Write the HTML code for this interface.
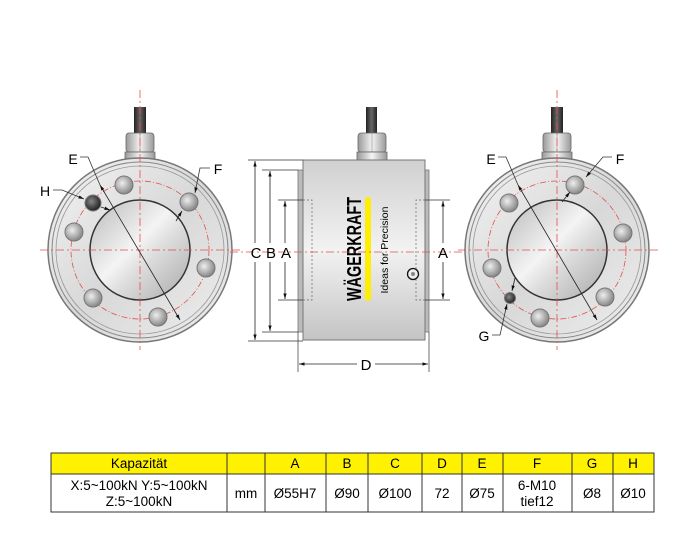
<!DOCTYPE html>
<html><head><meta charset="utf-8"><style>
html,body{margin:0;padding:0;background:#fff;}
svg{display:block}
text{font-family:"Liberation Sans",sans-serif;}
</style></head><body>
<svg width="700" height="541" viewBox="0 0 700 541" xmlns="http://www.w3.org/2000/svg">
<defs>
<linearGradient id="face" x1="0" y1="0" x2="1" y2="1">
<stop offset="0" stop-color="#f4f4f4"/><stop offset="0.5" stop-color="#d8d8d8"/><stop offset="1" stop-color="#eeeeee"/></linearGradient>
<linearGradient id="hole" x1="0" y1="0" x2="1" y2="1">
<stop offset="0" stop-color="#b8b8b8"/><stop offset="0.45" stop-color="#f4f4f4"/><stop offset="0.6" stop-color="#dcdcdc"/><stop offset="1" stop-color="#a8a8a8"/></linearGradient>
<linearGradient id="body" x1="0" y1="0" x2="0" y2="1">
<stop offset="0" stop-color="#d0d0d0"/><stop offset="0.5" stop-color="#f2f2f2"/><stop offset="1" stop-color="#c4c4c4"/></linearGradient>
<linearGradient id="cable" x1="0" y1="0" x2="1" y2="0">
<stop offset="0" stop-color="#222"/><stop offset="0.5" stop-color="#666"/><stop offset="1" stop-color="#222"/></linearGradient>
<linearGradient id="nut" x1="0" y1="0" x2="1" y2="0">
<stop offset="0" stop-color="#999"/><stop offset="0.5" stop-color="#f4f4f4"/><stop offset="1" stop-color="#999"/></linearGradient>
<radialGradient id="bolt" cx="0.4" cy="0.4" r="0.6"><stop offset="0" stop-color="#eee"/><stop offset="1" stop-color="#888"/></radialGradient>
<radialGradient id="dark" cx="0.4" cy="0.4" r="0.6"><stop offset="0" stop-color="#888"/><stop offset="1" stop-color="#222"/></radialGradient>
<marker id="ar" viewBox="0 0 10 10" refX="10" refY="5" markerWidth="7" markerHeight="7" orient="auto-start-reverse"><path d="M0,2 L10,5 L0,8 z" fill="#111"/></marker>
</defs>

<!-- LEFT VIEW -->
<g>
<rect x="134" y="107" width="12" height="27" fill="url(#cable)"/>
<rect x="126" y="133" width="28" height="19" rx="3" fill="url(#nut)" stroke="#666" stroke-width="0.8"/>
<line x1="140" y1="133" x2="140" y2="152" stroke="#888" stroke-width="0.6"/>
<rect x="125" y="152" width="30" height="8" fill="url(#nut)" stroke="#666" stroke-width="0.8"/>
<circle cx="140" cy="250" r="92" fill="url(#face)" stroke="#777" stroke-width="1.5"/>
<circle cx="140" cy="250" r="88" fill="none" stroke="#888" stroke-width="1"/>
<circle cx="140" cy="250" r="84" fill="none" stroke="#999" stroke-width="0.8"/>
<circle cx="140" cy="250" r="50" fill="url(#hole)" stroke="#333" stroke-width="1.5"/>
<circle cx="140" cy="250" r="69" fill="none" stroke="#e05050" stroke-width="0.8" stroke-dasharray="6,2,1,2"/>
<g stroke="#777" stroke-width="1">
<circle cx="124" cy="185" r="9" fill="url(#bolt)"/><circle cx="189" cy="202" r="9" fill="url(#bolt)"/>
<circle cx="206" cy="268" r="9" fill="url(#bolt)"/><circle cx="158" cy="317" r="9" fill="url(#bolt)"/>
<circle cx="93" cy="298" r="9" fill="url(#bolt)"/><circle cx="74" cy="232" r="9" fill="url(#bolt)"/>
<circle cx="93" cy="203" r="8" fill="url(#dark)"/>
</g>
<g stroke="#e05050" stroke-width="0.8" stroke-dasharray="8,3,2,3">
<line x1="140" y1="90" x2="140" y2="350"/><line x1="40" y1="250" x2="242" y2="250"/>
</g>
<line x1="100" y1="185" x2="180" y2="320" stroke="#222" stroke-width="0.8" marker-start="url(#ar)" marker-end="url(#ar)"/>
<polyline points="80,157 88,157 100,185" fill="none" stroke="#333" stroke-width="0.8"/>
<polyline points="53,190 62,190 84,199" fill="none" stroke="#333" stroke-width="0.8" marker-end="url(#ar)"/>
<line x1="101" y1="207" x2="110" y2="210" stroke="#222" stroke-width="0.8" marker-end="url(#ar)"/>
<polyline points="210,168 200,168 195,193" fill="none" stroke="#333" stroke-width="0.8" marker-end="url(#ar)"/>
<line x1="176" y1="221" x2="182" y2="211" stroke="#222" stroke-width="0.8" marker-end="url(#ar)"/>
<text x="73" y="164" font-size="14" text-anchor="middle">E</text>
<text x="45" y="196" font-size="14" text-anchor="middle">H</text>
<text x="218" y="174" font-size="14" text-anchor="middle">F</text>
</g>

<!-- MIDDLE VIEW -->
<g>
<rect x="366" y="107" width="11" height="27" fill="url(#cable)"/>
<rect x="358" y="133" width="28" height="19" rx="3" fill="url(#nut)" stroke="#666" stroke-width="0.8"/>
<line x1="372" y1="133" x2="372" y2="152" stroke="#888" stroke-width="0.6"/>
<rect x="357" y="152" width="30" height="8" fill="url(#nut)" stroke="#666" stroke-width="0.8"/>
<rect x="298" y="170" width="6" height="162" fill="#bbb" stroke="#777" stroke-width="0.8"/>
<rect x="424" y="170" width="5" height="162" fill="#bbb" stroke="#777" stroke-width="0.8"/>
<rect x="303" y="160" width="122" height="180" fill="url(#body)" stroke="#777" stroke-width="1"/>
<g stroke="#666" stroke-width="0.7" stroke-dasharray="2,2" fill="none">
<polyline points="303,200 312,200 312,300 303,300"/>
<polyline points="425,200 416,200 416,300 425,300"/>
</g>
<text transform="translate(361,249) rotate(-90)" font-size="20" font-weight="bold" text-anchor="middle" textLength="104" lengthAdjust="spacingAndGlyphs">WÄGERKRAFT</text>
<rect x="365" y="197" width="6" height="104" rx="3" fill="#ffee00"/>
<text transform="translate(388,250) rotate(-90)" font-size="10.5" text-anchor="middle">Ideas for Precision</text>
<circle cx="413" cy="274" r="5.5" fill="#eee" stroke="#111" stroke-width="1.3"/>
<circle cx="413" cy="274" r="2" fill="#888"/>
<line x1="230" y1="252" x2="470" y2="252" stroke="#e05050" stroke-width="0.8" stroke-dasharray="8,3,2,3"/>
<g stroke="#333" stroke-width="0.7">
<line x1="248" y1="160" x2="303" y2="160"/><line x1="248" y1="341" x2="303" y2="341"/>
<line x1="262" y1="170" x2="298" y2="170"/><line x1="262" y1="332" x2="298" y2="332"/>
<line x1="278" y1="200" x2="303" y2="200"/><line x1="278" y1="300" x2="303" y2="300"/>
<line x1="425" y1="200" x2="450" y2="200"/><line x1="425" y1="300" x2="450" y2="300"/>
<line x1="298" y1="332" x2="298" y2="372"/><line x1="429" y1="332" x2="429" y2="372"/>
</g>
<g stroke="#222" stroke-width="0.8" fill="none">
<line x1="255" y1="161" x2="255" y2="243" marker-start="url(#ar)"/><line x1="255" y1="262" x2="255" y2="340" marker-end="url(#ar)"/>
<line x1="270" y1="171" x2="270" y2="243" marker-start="url(#ar)"/><line x1="270" y1="262" x2="270" y2="331" marker-end="url(#ar)"/>
<line x1="285" y1="201" x2="285" y2="243" marker-start="url(#ar)"/><line x1="285" y1="262" x2="285" y2="299" marker-end="url(#ar)"/>
<line x1="443" y1="201" x2="443" y2="243" marker-start="url(#ar)"/><line x1="443" y1="262" x2="443" y2="299" marker-end="url(#ar)"/>
<line x1="299" y1="364" x2="357" y2="364" marker-start="url(#ar)"/><line x1="375" y1="364" x2="428" y2="364" marker-end="url(#ar)"/>
</g>
<text x="256" y="258" font-size="15" text-anchor="middle">C</text>
<text x="271" y="258" font-size="15" text-anchor="middle">B</text>
<text x="286" y="258" font-size="15" text-anchor="middle">A</text>
<text x="443" y="258" font-size="15" text-anchor="middle">A</text>
<text x="366" y="370" font-size="15" text-anchor="middle">D</text>
</g>

<!-- RIGHT VIEW -->
<g>
<rect x="551" y="107" width="12" height="27" fill="url(#cable)"/>
<rect x="543" y="133" width="28" height="19" rx="3" fill="url(#nut)" stroke="#666" stroke-width="0.8"/>
<line x1="557" y1="133" x2="557" y2="152" stroke="#888" stroke-width="0.6"/>
<rect x="542" y="152" width="30" height="8" fill="url(#nut)" stroke="#666" stroke-width="0.8"/>
<circle cx="557" cy="250" r="92" fill="url(#face)" stroke="#777" stroke-width="1.5"/>
<circle cx="557" cy="250" r="88" fill="none" stroke="#888" stroke-width="1"/>
<circle cx="557" cy="250" r="84" fill="none" stroke="#999" stroke-width="0.8"/>
<circle cx="557" cy="250" r="50" fill="url(#hole)" stroke="#333" stroke-width="1.5"/>
<circle cx="557" cy="250" r="69" fill="none" stroke="#e05050" stroke-width="0.8" stroke-dasharray="6,2,1,2"/>
<g stroke="#777" stroke-width="1">
<circle cx="575" cy="185" r="9" fill="url(#bolt)"/><circle cx="623" cy="233" r="9" fill="url(#bolt)"/>
<circle cx="605" cy="297" r="9" fill="url(#bolt)"/><circle cx="540" cy="318" r="9" fill="url(#bolt)"/>
<circle cx="492" cy="268" r="9" fill="url(#bolt)"/><circle cx="509" cy="203" r="9" fill="url(#bolt)"/>
<circle cx="510" cy="298" r="5.5" fill="url(#dark)"/>
</g>
<g stroke="#e05050" stroke-width="0.8" stroke-dasharray="8,3,2,3">
<line x1="557" y1="90" x2="557" y2="350"/><line x1="458" y1="250" x2="660" y2="250"/>
</g>
<line x1="518" y1="185" x2="597" y2="320" stroke="#222" stroke-width="0.8" marker-start="url(#ar)" marker-end="url(#ar)"/>
<polyline points="498,157 506,157 518,185" fill="none" stroke="#333" stroke-width="0.8"/>
<polyline points="612,157 603,157 586,177" fill="none" stroke="#333" stroke-width="0.8" marker-end="url(#ar)"/>
<line x1="562" y1="202" x2="570" y2="192" stroke="#222" stroke-width="0.8" marker-end="url(#ar)"/>
<polyline points="492,335 500,335 507,304" fill="none" stroke="#333" stroke-width="0.8" marker-end="url(#ar)"/>
<line x1="515" y1="278" x2="512" y2="291" stroke="#222" stroke-width="0.8" marker-end="url(#ar)"/>
<text x="491" y="164" font-size="14" text-anchor="middle">E</text>
<text x="620" y="164" font-size="14" text-anchor="middle">F</text>
<text x="484" y="341" font-size="14" text-anchor="middle">G</text>
</g>

<!-- TABLE -->
<g font-size="13.5">
<rect x="51" y="453" width="603" height="21" fill="#fff200"/>
<rect x="51" y="474" width="603" height="38" fill="#fff"/>
<g stroke="#333" stroke-width="1">
<rect x="51" y="453" width="603" height="59" fill="none"/>
<line x1="51" y1="474" x2="654" y2="474"/>
<line x1="227" y1="453" x2="227" y2="512"/><line x1="265" y1="453" x2="265" y2="512"/>
<line x1="326" y1="453" x2="326" y2="512"/><line x1="368" y1="453" x2="368" y2="512"/>
<line x1="422" y1="453" x2="422" y2="512"/><line x1="462" y1="453" x2="462" y2="512"/>
<line x1="503" y1="453" x2="503" y2="512"/><line x1="572" y1="453" x2="572" y2="512"/>
<line x1="613" y1="453" x2="613" y2="512"/>
</g>
<g text-anchor="middle">
<text x="139" y="468">Kapazität</text>
<text x="295" y="468">A</text><text x="347" y="468">B</text><text x="395" y="468">C</text>
<text x="442" y="468">D</text><text x="482" y="468">E</text><text x="537" y="468">F</text>
<text x="592" y="468">G</text><text x="633" y="468">H</text>
<text x="139" y="490">X:5~100kN  Y:5~100kN</text>
<text x="139" y="506">Z:5~100kN</text>
<text x="246" y="498">mm</text>
<text x="295" y="498">Ø55H7</text><text x="347" y="498">Ø90</text><text x="395" y="498">Ø100</text>
<text x="442" y="498">72</text><text x="482" y="498">Ø75</text>
<text x="537" y="490">6-M10</text><text x="537" y="506">tief12</text>
<text x="592" y="498">Ø8</text><text x="633" y="498">Ø10</text>
</g>
</g>
</svg>
</body></html>
